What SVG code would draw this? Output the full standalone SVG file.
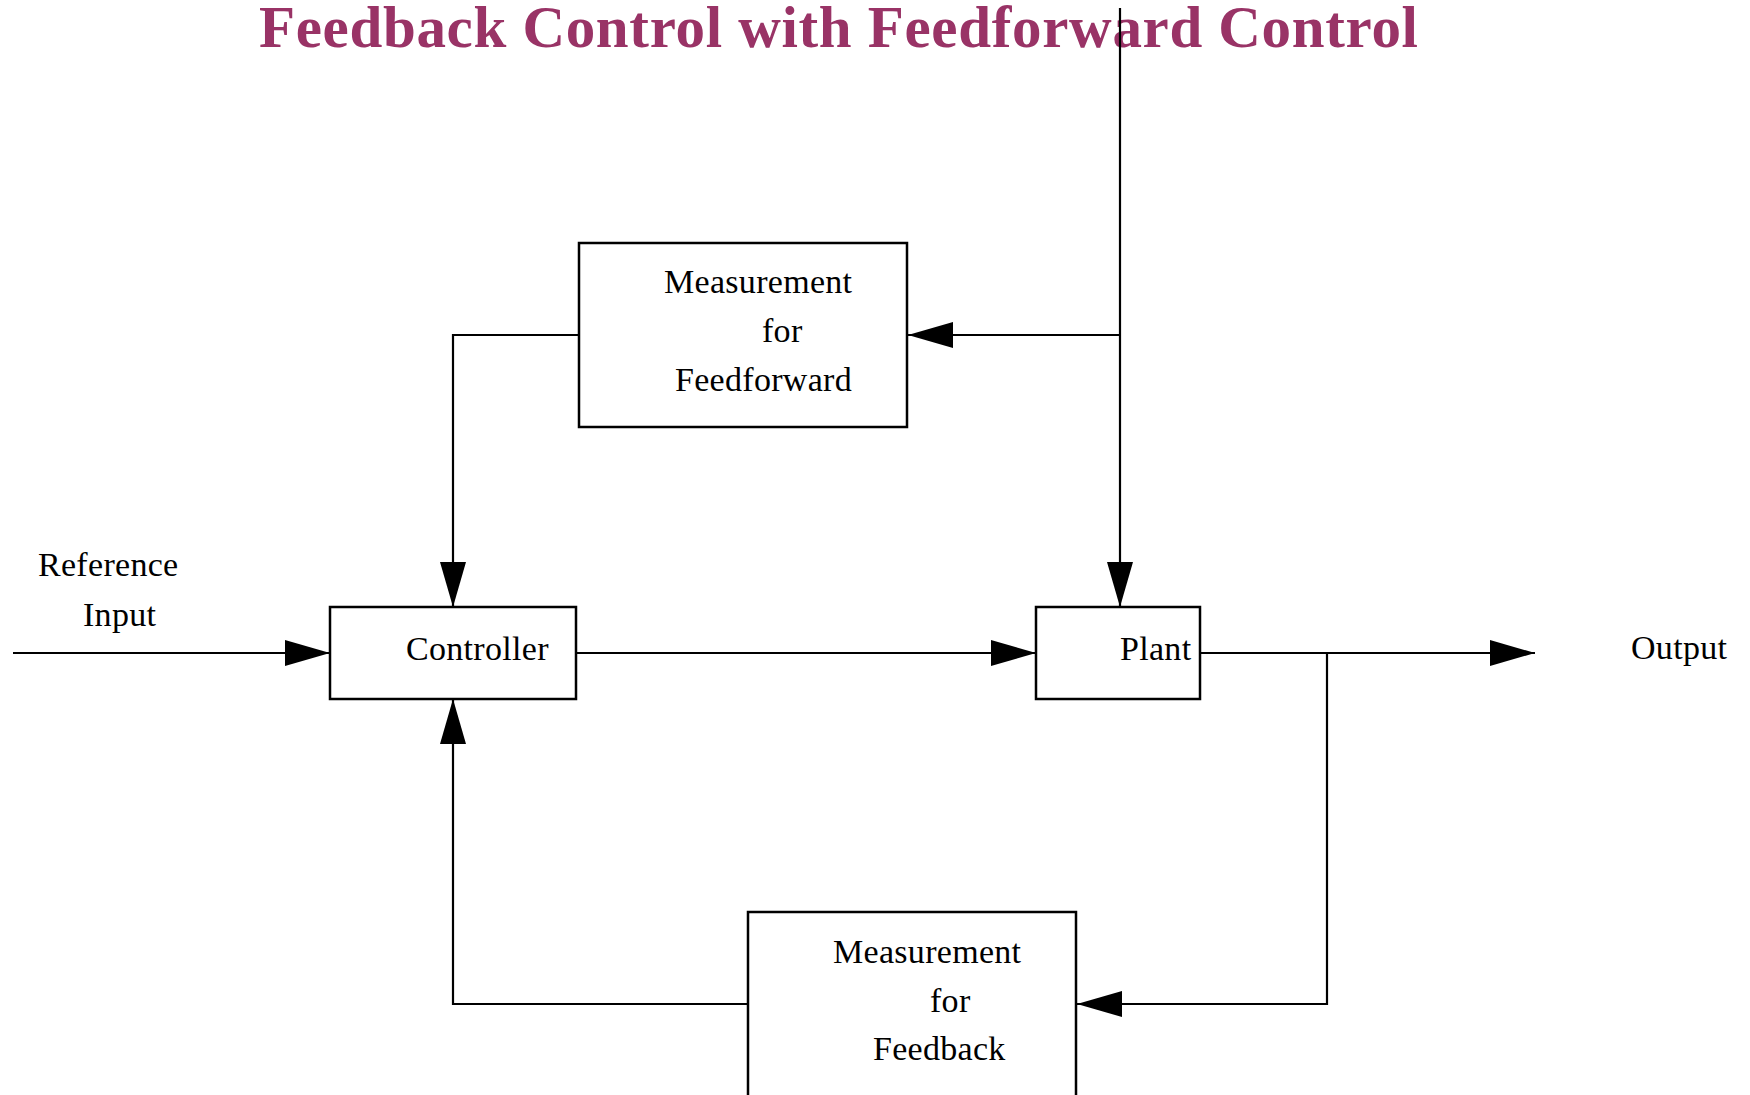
<svg xmlns="http://www.w3.org/2000/svg" width="1750" height="1095" viewBox="0 0 1750 1095">
<style>
.box{fill:#fff;stroke:#000;stroke-width:2.5}
.ln{fill:none;stroke:#000;stroke-width:2.2}
.lbl{font-family:"Liberation Serif","Times New Roman",serif;font-size:34px;fill:#000;letter-spacing:0.3px}
.title{font-family:"Liberation Serif","Times New Roman",serif;font-size:59px;font-weight:bold;fill:#993366}
</style>
<defs>
<marker id="ah" markerUnits="userSpaceOnUse" markerWidth="46" markerHeight="26" refX="45" refY="13" orient="auto" viewBox="0 0 46 26">
<path d="M0,0 L45,13 L0,26 z" fill="#000"/>
</marker>
</defs>
<text class="title" x="259" y="47" textLength="1159" lengthAdjust="spacing">Feedback Control with Feedforward Control</text>
<g id="connectors">
<path class="ln" d="M1120,8 L1120,607" marker-end="url(#ah)"/>
<path class="ln" d="M1120,335 L908,335" marker-end="url(#ah)"/>
<path class="ln" d="M579,335 L453,335 L453,607" marker-end="url(#ah)"/>
<path class="ln" d="M13,653 L330,653" marker-end="url(#ah)"/>
<path class="ln" d="M576,653 L1036,653" marker-end="url(#ah)"/>
<path class="ln" d="M1200,653 L1535,653" marker-end="url(#ah)"/>
<path class="ln" d="M1327,653 L1327,1004 L1077,1004" marker-end="url(#ah)"/>
<path class="ln" d="M748,1004 L453,1004 L453,699" marker-end="url(#ah)"/>
</g>
<g id="mff">
<rect class="box" x="579" y="243" width="328" height="184"/>
<text class="lbl" x="664" y="293">Measurement</text>
<text class="lbl" x="762" y="342">for</text>
<text class="lbl" x="675" y="391">Feedforward</text>
</g>
<g id="controller">
<rect class="box" x="330" y="607" width="246" height="92"/>
<text class="lbl" x="406" y="660">Controller</text>
</g>
<g id="plant">
<rect class="box" x="1036" y="607" width="164" height="92"/>
<text class="lbl" x="1120" y="660">Plant</text>
</g>
<g id="mfb">
<rect class="box" x="748" y="912" width="328" height="190"/>
<text class="lbl" x="833" y="963">Measurement</text>
<text class="lbl" x="930" y="1012">for</text>
<text class="lbl" x="873" y="1060">Feedback</text>
</g>
<g id="labels">
<text class="lbl" x="38" y="576">Reference</text>
<text class="lbl" x="83" y="626">Input</text>
<text class="lbl" x="1631" y="659">Output</text>
</g>
</svg>
